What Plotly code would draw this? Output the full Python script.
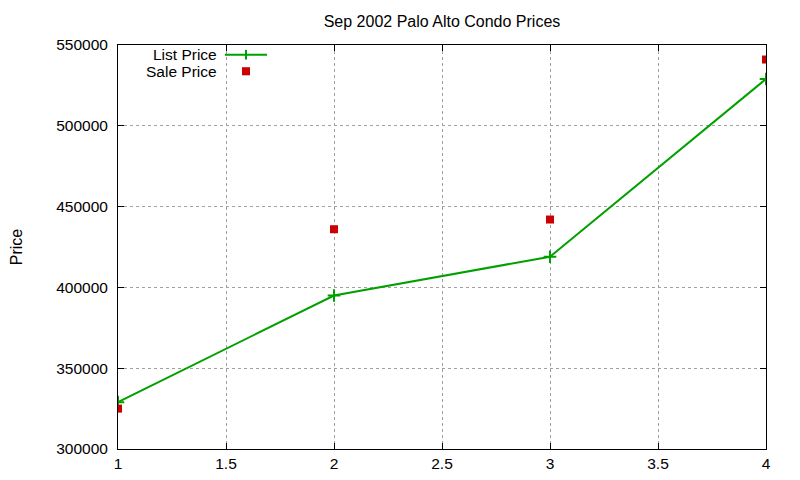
import plotly.graph_objects as go

# data
listing = [1, 2, 3, 4]
list_price = [329000, 395000, 419000, 529000]
sale_price = [325000, 436000, 442000, 541000]

x_ticks = [1, 1.5, 2, 2.5, 3, 3.5, 4]
y_ticks = [300000, 350000, 400000, 450000, 500000, 550000]

green = '#00a000'
red = '#cc0000'

fig = go.Figure()

fig.add_trace(go.Scatter(x = listing,
                         y = list_price,
                         mode = 'lines+markers',
                         name = 'List Price',
                         line = dict(color = green, width = 2),
                         marker = dict(symbol = 'cross-thin', size = 9,
                                       line = dict(width = 2, color = green))))

fig.add_trace(go.Scatter(x = listing,
                         y = sale_price,
                         mode = 'markers',
                         name = 'Sale Price',
                         marker = dict(symbol = 'square', size = 8, color = red)))

axis_style = dict(showline = True,
                  linecolor = 'black',
                  linewidth = 1,
                  mirror = 'allticks',
                  ticks = 'inside',
                  ticklen = 6,
                  tickcolor = 'black',
                  showgrid = True,
                  gridcolor = '#a0a0a0',
                  griddash = 'dot',
                  gridwidth = 1,
                  zeroline = False,
                  automargin = False,
                  tickfont = dict(size = 15.5, color = 'black'))

fig.update_xaxes(range = [1, 4], tickvals = x_ticks,
                 ticktext = [f'{v:g}' for v in x_ticks], **axis_style)
fig.update_yaxes(range = [300000, 550000], tickvals = y_ticks,
                 ticktext = [str(v) for v in y_ticks],
                 ticklabelstandoff = 6,
                 title = dict(text = 'Price', font = dict(size = 16, color = 'black'), standoff = 32),
                 **axis_style)

# gnuplot style key: text on the left, sample on the right
key_y = [0.976, 0.935]
key_text = ['List Price', 'Sale Price']
for yy, tt in zip(key_y, key_text):
    fig.add_annotation(xref = 'paper', yref = 'paper', x = 0.154, y = yy,
                       xanchor = 'right', yanchor = 'middle', showarrow = False,
                       borderpad = 0,
                       text = tt, font = dict(size = 15.5, color = 'black'))

# samples
fig.add_shape(type = 'line', xref = 'paper', yref = 'paper',
              x0 = 0.165, x1 = 0.230, y0 = key_y[0], y1 = key_y[0],
              line = dict(color = green, width = 2))
fig.add_shape(type = 'line', xref = 'paper', yref = 'paper',
              x0 = 0.1975, x1 = 0.1975, y0 = key_y[0] - 0.012, y1 = key_y[0] + 0.012,
              line = dict(color = green, width = 2))
fig.add_shape(type = 'rect', xref = 'paper', yref = 'paper',
              x0 = 0.1913, x1 = 0.2037, y0 = key_y[1] - 0.01, y1 = key_y[1] + 0.01,
              fillcolor = red, line = dict(width = 0))

# the page has an 8px body margin, so the margins are shifted to compensate
fig.update_layout(width = 800,
                  height = 480,
                  showlegend = False,
                  plot_bgcolor = 'white',
                  paper_bgcolor = 'white',
                  font = dict(family = 'Liberation Sans, Arial, sans-serif', size = 16, color = 'black'),
                  title = dict(text = 'Sep 2002 Palo Alto Condo Prices',
                               x = 0.5, xref = 'paper', y = 0.973, yanchor = 'middle',
                               font = dict(size = 16, color = 'black')),
                  margin = dict(l = 110, r = 42, t = 37, b = 39))

fig.write_html('out.html')
